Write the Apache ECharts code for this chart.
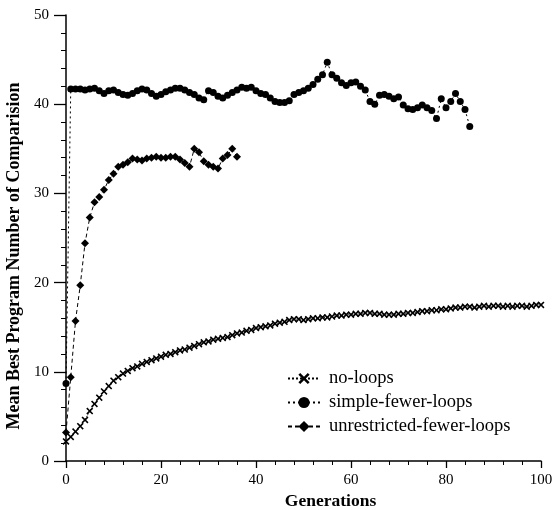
<!DOCTYPE html>
<html>
<head>
<meta charset="utf-8">
<script src="https://cdn.jsdelivr.net/npm/echarts@6/dist/echarts.min.js"></script>
<style>html,body{margin:0;padding:0;background:#fff}#c{width:554px;height:510px}</style>
</head>
<body>
<div id="c"></div>
<script>
// Values per generation (index = generation number)
const seriesNames = ['no-loops', 'simple-fewer-loops', 'unrestricted-fewer-loops'];
const noLoops = [2.2,2.7,3.3,3.9,4.6,5.6,6.4,7.1,7.8,8.4,9.0,9.4,9.8,10.1,10.4,10.6,10.9,11.1,11.3,11.5,
  11.7,11.9,12.0,12.2,12.4,12.5,12.7,12.9,13.1,13.3,13.4,13.6,13.7,13.8,13.9,14.1,14.3,14.4,14.6,14.7,
  14.9,15.0,15.1,15.2,15.4,15.5,15.6,15.8,15.9,15.9,15.8,15.9,16.0,16.0,16.1,16.1,16.2,16.3,16.3,16.4,
  16.4,16.5,16.5,16.6,16.6,16.5,16.5,16.4,16.4,16.4,16.5,16.5,16.6,16.6,16.7,16.8,16.8,16.9,16.9,17.0,
  17.0,17.1,17.2,17.2,17.3,17.3,17.2,17.3,17.4,17.3,17.4,17.4,17.3,17.4,17.3,17.4,17.4,17.3,17.4,17.5,17.5];
const simpleFewerLoops = [8.7,41.7,41.7,41.7,41.6,41.7,41.8,41.5,41.2,41.5,41.6,41.3,41.1,41.0,41.2,41.5,41.7,41.6,41.2,40.9,
  41.1,41.4,41.6,41.8,41.8,41.6,41.3,41.1,40.7,40.5,41.5,41.3,40.9,40.7,41.0,41.3,41.6,41.9,41.8,41.9,
  41.5,41.2,41.1,40.7,40.3,40.2,40.2,40.4,41.1,41.3,41.5,41.8,42.2,42.8,43.3,44.7,43.3,42.9,42.4,42.1,
  42.4,42.5,42.0,41.6,40.3,40.0,41.0,41.1,40.9,40.6,40.8,39.9,39.5,39.4,39.6,39.9,39.6,39.3,38.4,40.6,
  39.6,40.3,41.2,40.3,39.4,37.5];
const unrestrictedFewerLoops = [3.2,9.4,15.7,19.7,24.4,27.3,29.0,29.6,30.4,31.5,32.2,33.0,33.2,33.5,33.9,33.8,33.7,33.9,34.0,34.1,
  34.0,34.0,34.1,34.1,33.8,33.4,33.0,35.0,34.6,33.6,33.2,33.0,32.8,33.9,34.3,35.0,34.1];
const xTicks = {min: 0, max: 100, interval: 20};
const yTicks = {min: 0, max: 50, interval: 10};

const toPairs = arr => arr.map((v, i) => [i, v]);
const crossPath = 'path://M0,1.6L1.6,0L5,3.4L8.4,0L10,1.6L6.6,5L10,8.4L8.4,10L5,6.6L1.6,10L0,8.4L3.4,5Z';
const serif = '"Liberation Serif","DejaVu Serif",serif';

const chart = echarts.init(document.getElementById('c'), null, {renderer: 'canvas'});
chart.setOption({
  animation: false,
  backgroundColor: '#fff',
  grid: {left: 66, right: 13, top: 15, bottom: 49, containLabel: false, outerBoundsMode: 'none'},
  legend: {
    orient: 'vertical', left: 282, top: 364,
    itemWidth: 32, itemHeight: 14, itemGap: 5,
    textStyle: {fontFamily: serif, fontSize: 18.5, color: '#000', padding: [0, 0, 0, 4]},
    data: seriesNames
  },
  xAxis: {
    type: 'value', min: xTicks.min, max: xTicks.max, interval: xTicks.interval,
    name: 'Generations', nameLocation: 'middle', nameGap: 30,
    nameTextStyle: {fontFamily: serif, fontSize: 17.5, fontWeight: 'bold', color: '#000', padding: [0, 0, 0, 54]},
    axisLine: {lineStyle: {color: '#000', width: 1.5}},
    axisTick: {show: true, length: 7, lineStyle: {color: '#000', width: 1.3}},
    minorTick: {show: true, splitNumber: 5, length: 4, lineStyle: {color: '#000', width: 1}},
    axisLabel: {fontFamily: serif, fontSize: 15, color: '#000', margin: 12},
    splitLine: {show: false}
  },
  yAxis: {
    type: 'value', min: yTicks.min, max: yTicks.max, interval: yTicks.interval,
    name: 'Mean Best Program Number of Comparision', nameLocation: 'middle', nameGap: 41,
    nameTextStyle: {fontFamily: serif, fontSize: 18, fontWeight: 'bold', color: '#000', padding: [0, 36, 0, 0]},
    axisLine: {show: true, lineStyle: {color: '#000', width: 1.5}},
    axisTick: {show: true, length: 12, lineStyle: {color: '#000', width: 1.3}},
    minorTick: {show: true, splitNumber: 5, length: 5, lineStyle: {color: '#000', width: 1}},
    axisLabel: {fontFamily: serif, fontSize: 15, color: '#000', margin: 17},
    splitLine: {show: false}
  },
  series: [
    {
      name: seriesNames[0], type: 'line', data: toPairs(noLoops),
      symbol: crossPath, symbolSize: 7,
      itemStyle: {color: '#000'},
      lineStyle: {color: '#000', width: 1, type: 'dotted'}
    },
    {
      name: seriesNames[1], type: 'line', data: toPairs(simpleFewerLoops),
      symbol: 'circle', symbolSize: 7,
      itemStyle: {color: '#000'},
      lineStyle: {color: '#000', width: 1, type: [2, 3]}
    },
    {
      name: seriesNames[2], type: 'line', data: toPairs(unrestrictedFewerLoops),
      symbol: 'diamond', symbolSize: 8,
      itemStyle: {color: '#000'},
      lineStyle: {color: '#000', width: 1, type: [4, 3]}
    }
  ]
});
</script>
</body>
</html>
